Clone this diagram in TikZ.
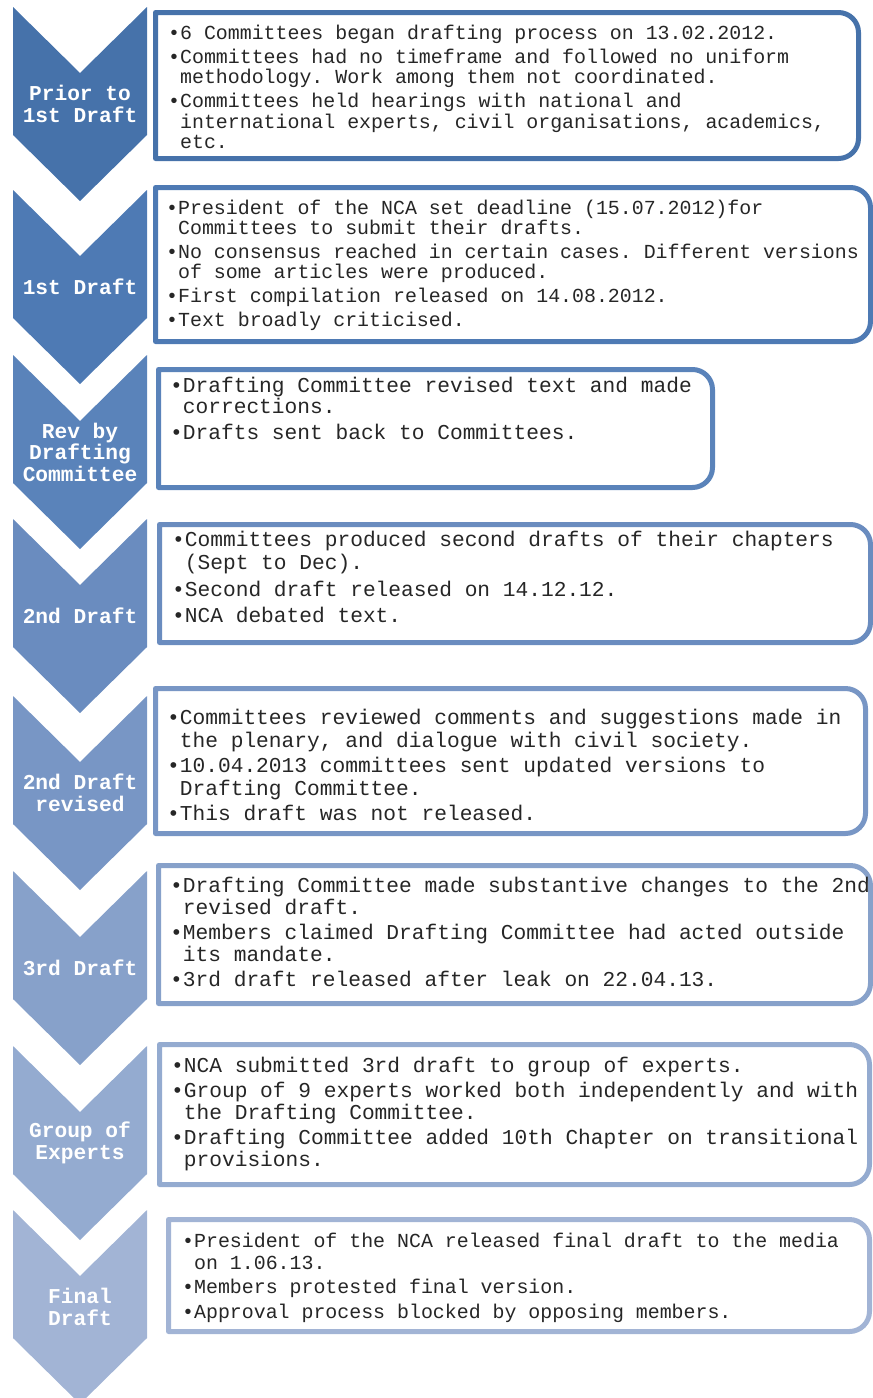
\documentclass[tikz,border=0pt]{standalone}
\usepackage{fontspec}
\newfontfamily\monofont{Liberation Mono}
\definecolor{stA}{HTML}{4672AA}
\definecolor{stB}{HTML}{4E7AB4}
\definecolor{stC}{HTML}{5A83BA}
\definecolor{stD}{HTML}{6A8CBF}
\definecolor{stE}{HTML}{7896C5}
\definecolor{stF}{HTML}{87A1CA}
\definecolor{stG}{HTML}{94ABD0}
\definecolor{stH}{HTML}{A2B4D5}
% continuation-line indent: one monospace cell
\newcommand\ind{\hphantom{•}}
% strut fixing the top of the first line
\newcommand\firstline{\rule{0pt}{0.9em}}
% downward chevron, #1 = top edge y, #2 = colour
\newcommand\chevron[2]{%
  \fill[#2] (13,#1) -- (80,{#1+66}) -- (147,#1) -- (147,{#1+128})
    -- (80,{#1+194}) -- (13,{#1+128}) -- cycle;}
% note frame with rounded right corners, outer edges #1 L, #2 T, #3 R, #4 B, colour #5
\newcommand\noteframe[5]{%
  \draw[line width=5pt, line join=round, draw=#5, fill=white]
    ({#1+2.5},{#2+2.5}) -- ({#3-22.5},{#2+2.5})
    .. controls ({#3-11.5},{#2+2.5}) and ({#3-2.5},{#2+11.5}) .. ({#3-2.5},{#2+22.5})
    -- ({#3-2.5},{#4-22.5})
    .. controls ({#3-2.5},{#4-11.5}) and ({#3-11.5},{#4-2.5}) .. ({#3-22.5},{#4-2.5})
    -- ({#1+2.5},{#4-2.5}) -- cycle;}
\begin{document}
\frenchspacing
\begin{tikzpicture}[x=1pt,y=-1pt,
  stagelabel/.style={font=\monofont\bfseries\fontsize{21.2}{21.5}\selectfont,
    text=white, align=center, inner sep=0pt},
  notes/.style={anchor=north west, align=left, inner sep=0pt, text=black!85}]
\useasboundingbox (0,0) rectangle (873,1398);
\begin{scope}
\clip (0,0) rectangle (873,1398);

% stage chevrons
\chevron{7}{stA}
\chevron{190}{stB}
\chevron{355}{stC}
\chevron{519}{stD}
\chevron{696}{stE}
\chevron{871}{stF}
\chevron{1046}{stG}
\chevron{1210}{stH}

\node[stagelabel] (s1) at (80,104) {Prior to\\1st Draft};
\node[stagelabel] (s2) at (80,287) {1st Draft};
\node[stagelabel] (s3) at (80,452) {Rev by\\Drafting\\Committee};
\node[stagelabel] (s4) at (80,616) {2nd Draft};
\node[stagelabel] (s5) at (80,793) {2nd Draft\\revised};
\node[stagelabel] (s6) at (80,968) {3rd Draft};
\node[stagelabel] (s7) at (80,1143) {Group of\\Experts};
\node[stagelabel] (s8) at (80,1307) {Final\\Draft};

% note frames
\noteframe{153}{10}{861}{161}{stA}
\noteframe{153}{185}{873}{344}{stB}
\noteframe{156}{367}{715}{490}{stC}
\noteframe{157}{522}{873}{645}{stD}
\noteframe{153}{686}{868}{836}{stE}
\noteframe{156}{863}{873}{1006}{stF}
\noteframe{157}{1042}{872}{1187}{stG}
\noteframe{166}{1217}{872}{1334}{stH}

% note texts
\node[notes, font=\monofont\fontsize{19.9}{20.5}\selectfont] (n1) at (168,21.1) {%
\firstline•6 Committees began drafting process on 13.02.2012.\\[3.5pt]
•Committees had no timeframe and followed no uniform\\
\ind methodology. Work among them not coordinated.\\[3.5pt]
•Committees held hearings with national and\\
\ind international experts, civil organisations, academics,\\
\ind etc.};

\node[notes, font=\monofont\fontsize{19.9}{20}\selectfont] (n2) at (166,196.1) {%
\firstline•President of the NCA set deadline (15.07.2012)for\\
\ind Committees to submit their drafts.\\[4pt]
•No consensus reached in certain cases. Different versions\\
\ind of some articles were produced.\\[4pt]
•First compilation released on 14.08.2012.\\[4pt]
•Text broadly criticised.};

\node[notes, font=\monofont\fontsize{21.2}{21}\selectfont] (n3) at (170,373.3) {%
\firstline•Drafting Committee revised text and made\\
\ind corrections.\\[5pt]
•Drafts sent back to Committees.};

\node[notes, font=\monofont\fontsize{21.2}{23}\selectfont] (n4) at (172,527.3) {%
\firstline•Committees produced second drafts of their chapters\\
\ind (Sept to Dec).\\[3.5pt]
•Second draft released on 14.12.12.\\[3.5pt]
•NCA debated text.};

\node[notes, font=\monofont\fontsize{21.2}{23}\selectfont] (n5) at (167,705.3) {%
\firstline•Committees reviewed comments and suggestions made in\\
\ind the plenary, and dialogue with civil society.\\[2pt]
•10.04.2013 committees sent updated versions to\\
\ind Drafting Committee.\\[2pt]
•This draft was not released.};

\node[notes, font=\monofont\fontsize{21.2}{22}\selectfont] (n6) at (170,873.3) {%
\firstline•Drafting Committee made substantive changes to the 2nd\\
\ind revised draft.\\[3pt]
•Members claimed Drafting Committee had acted outside\\
\ind its mandate.\\[3pt]
•3rd draft released after leak on 22.04.13.};

\node[notes, font=\monofont\fontsize{21.2}{22}\selectfont] (n7) at (171,1053.3) {%
\firstline•NCA submitted 3rd draft to group of experts.\\[3pt]
•Group of 9 experts worked both independently and with\\
\ind the Drafting Committee.\\[3pt]
•Drafting Committee added 10th Chapter on transitional\\
\ind provisions.};

\node[notes, font=\monofont\fontsize{19.9}{22}\selectfont] (n8) at (182,1229.1) {%
\firstline•President of the NCA released final draft to the media\\
\ind on 1.06.13.\\[2.5pt]
•Members protested final version.\\[2.5pt]
•Approval process blocked by opposing members.};
\end{scope}
\end{tikzpicture}
\end{document}
